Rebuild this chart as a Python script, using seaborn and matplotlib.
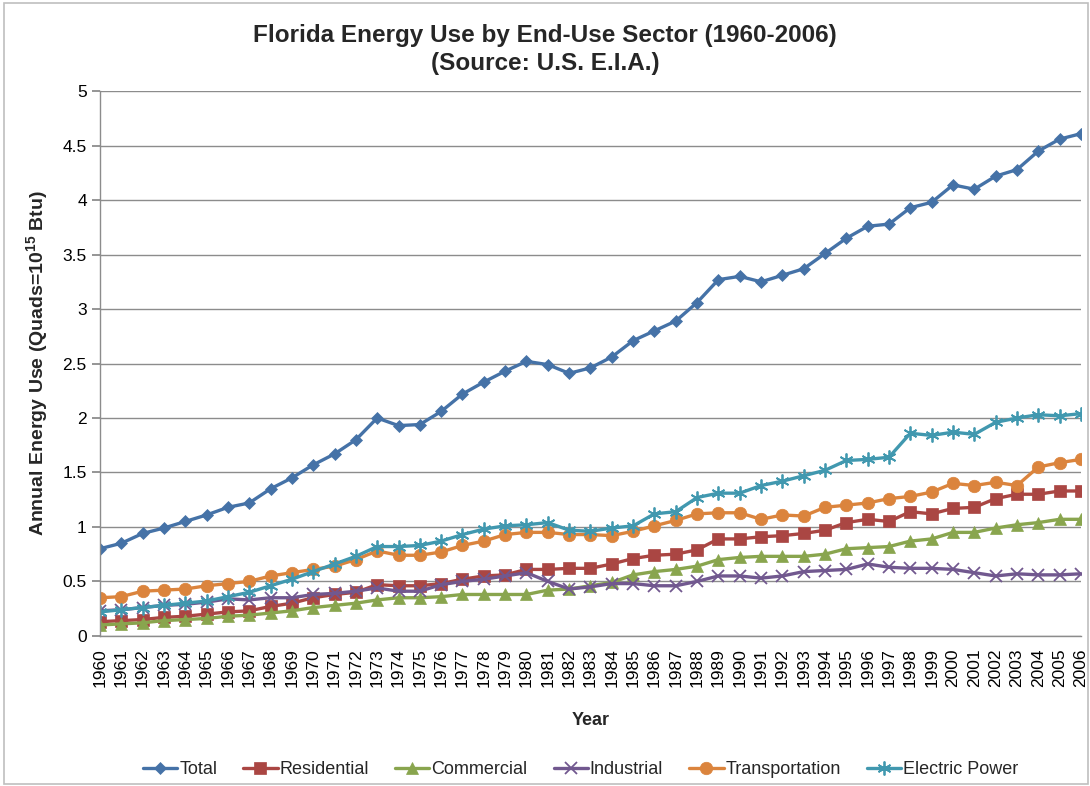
import matplotlib
matplotlib.use('Agg')
import matplotlib.pyplot as plt
import matplotlib.patches as patches
import seaborn as sns
import numpy as np

years = list(range(1960, 2007))

total = [0.80, 0.85, 0.94, 0.99, 1.05, 1.11, 1.18, 1.22, 1.35, 1.45,
         1.57, 1.67, 1.80, 2.00, 1.93, 1.94, 2.06, 2.22, 2.33, 2.43,
         2.52, 2.49, 2.41, 2.46, 2.56, 2.71, 2.80, 2.89, 3.06, 3.27,
         3.30, 3.25, 3.31, 3.37, 3.51, 3.65, 3.76, 3.78, 3.93, 3.98,
         4.14, 4.10, 4.22, 4.28, 4.45, 4.56, 4.61]
residential = [0.13, 0.14, 0.15, 0.17, 0.18, 0.20, 0.22, 0.23, 0.27, 0.30,
               0.35, 0.38, 0.40, 0.47, 0.46, 0.46, 0.48, 0.52, 0.55, 0.56,
               0.61, 0.61, 0.62, 0.62, 0.66, 0.71, 0.74, 0.75, 0.79, 0.89,
               0.89, 0.91, 0.92, 0.94, 0.97, 1.04, 1.07, 1.05, 1.14, 1.12,
               1.17, 1.18, 1.26, 1.30, 1.30, 1.33, 1.33]
commercial = [0.10, 0.11, 0.12, 0.14, 0.15, 0.16, 0.18, 0.19, 0.21, 0.23,
              0.26, 0.28, 0.30, 0.33, 0.35, 0.35, 0.36, 0.38, 0.38, 0.38,
              0.38, 0.42, 0.43, 0.46, 0.49, 0.56, 0.59, 0.61, 0.64, 0.70,
              0.72, 0.73, 0.73, 0.73, 0.75, 0.80, 0.81, 0.82, 0.87, 0.89,
              0.95, 0.95, 0.99, 1.02, 1.04, 1.07, 1.07]
industrial = [0.23, 0.24, 0.26, 0.28, 0.29, 0.31, 0.34, 0.33, 0.35, 0.35,
              0.38, 0.39, 0.41, 0.44, 0.41, 0.41, 0.47, 0.50, 0.52, 0.55,
              0.58, 0.50, 0.43, 0.45, 0.48, 0.48, 0.46, 0.46, 0.50, 0.55,
              0.55, 0.53, 0.55, 0.59, 0.60, 0.61, 0.66, 0.63, 0.62, 0.62,
              0.61, 0.58, 0.55, 0.57, 0.56, 0.56, 0.57]
transportation = [0.35, 0.36, 0.41, 0.42, 0.43, 0.46, 0.48, 0.50, 0.55, 0.58,
                  0.61, 0.64, 0.70, 0.78, 0.74, 0.74, 0.77, 0.83, 0.87, 0.93,
                  0.95, 0.95, 0.93, 0.93, 0.92, 0.96, 1.01, 1.06, 1.12, 1.13,
                  1.13, 1.07, 1.11, 1.10, 1.18, 1.20, 1.22, 1.26, 1.28, 1.32,
                  1.40, 1.38, 1.41, 1.38, 1.55, 1.59, 1.62]
electric = [0.22, 0.24, 0.26, 0.28, 0.30, 0.32, 0.36, 0.40, 0.46, 0.52,
            0.59, 0.66, 0.73, 0.82, 0.82, 0.83, 0.87, 0.93, 0.98, 1.01,
            1.02, 1.04, 0.97, 0.96, 0.99, 1.01, 1.12, 1.14, 1.27, 1.31,
            1.31, 1.38, 1.42, 1.47, 1.52, 1.61, 1.62, 1.64, 1.86, 1.84,
            1.87, 1.85, 1.96, 2.00, 2.03, 2.02, 2.04]

series = [
    ("Total", total, "#4572A7", "D", 6.5),
    ("Residential", residential, "#AA4643", "s", 8),
    ("Commercial", commercial, "#89A54E", "^", 8),
    ("Industrial", industrial, "#71588F", "x", 8),
    ("Transportation", transportation, "#DB843D", "o", 9),
    ("Electric Power", electric, "#4198AF", (6, 2, 0), 10),
]

sns.set_theme(style="white")
plt.rcParams['font.family'] = ['Liberation Sans', 'DejaVu Sans']
plt.rcParams['mathtext.fontset'] = 'custom'
plt.rcParams['mathtext.rm'] = 'Liberation Sans:bold'
plt.rcParams['mathtext.it'] = 'Liberation Sans:bold'

fig = plt.figure(figsize=(10.9, 7.86), dpi=100)
ax = fig.add_axes([0.0917, 0.191, 0.9, 0.693])

for name, vals, color, marker, ms in series:
    mew = 1.3 if marker in ("x", (6, 2, 0)) else 0.5
    sns.lineplot(x=years, y=vals, ax=ax, color=color, marker=marker,
                 markersize=ms, markeredgecolor=color, markeredgewidth=mew,
                 linewidth=2.4, label=name)

ax.set_xlim(1960, 2006)
ax.set_ylim(0, 5)
ax.set_yticks(np.arange(0, 5.01, 0.5))
ax.set_yticklabels(['0', '0.5', '1', '1.5', '2', '2.5', '3', '3.5', '4', '4.5', '5'])
ax.set_xticks(years)
ax.set_xticklabels([str(y) for y in years], rotation=90)
ax.set_xticks(range(1960, 2007, 10), minor=True)
ax.tick_params(axis='both', which='major', labelsize=12.5, colors='black')
ax.tick_params(axis='x', which='major', length=0, pad=9)
ax.tick_params(axis='y', which='major', length=6, color='#888888', left=True)
ax.tick_params(axis='x', which='minor', length=6, color='#888888', bottom=True)

ax.grid(True, axis='y', which='major', color='#8c8c8c', linewidth=1)
ax.grid(True, axis='x', which='minor', color='#8c8c8c', linewidth=1)
ax.set_axisbelow(True)

for s in ['top', 'right']:
    ax.spines[s].set_visible(False)
for s in ['left', 'bottom']:
    ax.spines[s].set_color('#8c8c8c')
    ax.spines[s].set_linewidth(1)

ax.set_xlabel('Year', fontsize=13, fontweight='bold', labelpad=18)
ax.set_ylabel('Annual Energy Use (Quads=10$^{15}$ Btu)', fontsize=14,
              fontweight='bold', labelpad=9)

fig.suptitle('Florida Energy Use by End-Use Sector (1960-2006)\n(Source: U.S. E.I.A.)',
             fontsize=17.5, fontweight='bold', y=0.97, linespacing=1.3)

ax.legend(loc='upper center', bbox_to_anchor=(0.49, -0.2), ncol=6,
          frameon=False, fontsize=13, handlelength=1.9, handletextpad=0.1,
          columnspacing=1.45)

fig.patches.append(patches.Rectangle((0.004, 0.003), 0.994, 0.993,
                                     transform=fig.transFigure, fill=False,
                                     edgecolor='#bfbfbf', linewidth=1.2))

fig.savefig('out.png', dpi=100)
